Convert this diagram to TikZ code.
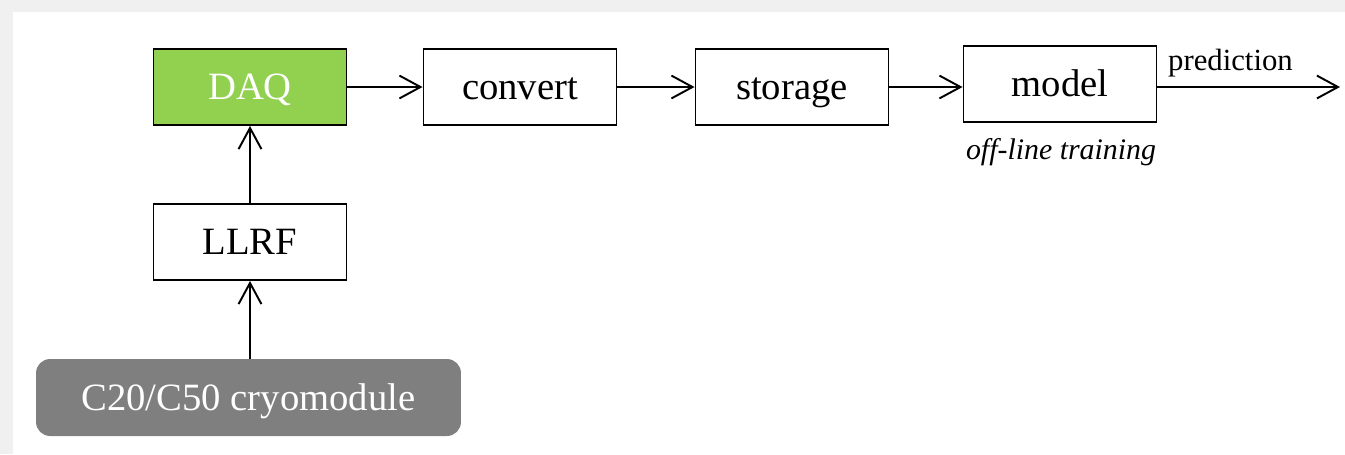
\documentclass[tikz,border=0pt]{standalone}
\usepackage{fontspec}
\setmainfont{Liberation Serif}
\usetikzlibrary{arrows.meta}
\definecolor{daqgreen}{HTML}{92D050}
\definecolor{cryogray}{HTML}{7F7F7F}
\begin{document}
\begin{tikzpicture}
    [   x=0.02cm, y=-0.02cm,
        block/.style={draw=black,fill=#1,line width=1.1pt,minimum width=3.86cm,minimum height=1.52cm,
            text height=16pt,text depth=1.5pt,font=\fontsize{22}{26}\selectfont},
        flow/.style={line width=1.1pt,-{Straight Barb[length=12pt,width=13pt]}},
    ]
        % frame
        \fill[black!6] (0,0) rectangle (1345,454);
        \fill[white] (13,12) rectangle (1345,454);
        \useasboundingbox (0,0) rectangle (1345,454);
        \node[block=daqgreen,text=white] (daq) at (250,87) {DAQ};
        \node[block=white] (convert) at (520,87) {convert};
        \node[block=white] (storage) at (792,87) {storage};
        \node[block=white] (model) at (1060,84) {model};
        \node[block=white] (llrf) at (250,242) {LLRF};
        \node[draw=none,fill=cryogray,text=white,rounded corners=8pt,minimum width=8.5cm,minimum height=1.54cm,
            text height=16pt,text depth=1.5pt,font=\fontsize{22}{26}\selectfont] (cryo) at (248.5,397.5) {C20/C50 cryomodule};
        \node[font=\itshape\fontsize{17}{20}\selectfont] (offline) at (1061,152) {off-line training};
        \coordinate (out) at (1340,87);
        \draw[flow] (cryo.north -| llrf) -- (llrf);
        \draw[flow] (llrf) -- (daq);
        \draw[flow] (daq) -- (convert);
        \draw[flow] (convert) -- (storage);
        \draw[flow] (storage.east) -- (storage.east -| model.west);
        \draw[flow] (model.east |- out) -- node[above=2pt,pos=0.4,font=\fontsize{17.5}{20}\selectfont] {prediction} (out);
  \end{tikzpicture}
\end{document}
